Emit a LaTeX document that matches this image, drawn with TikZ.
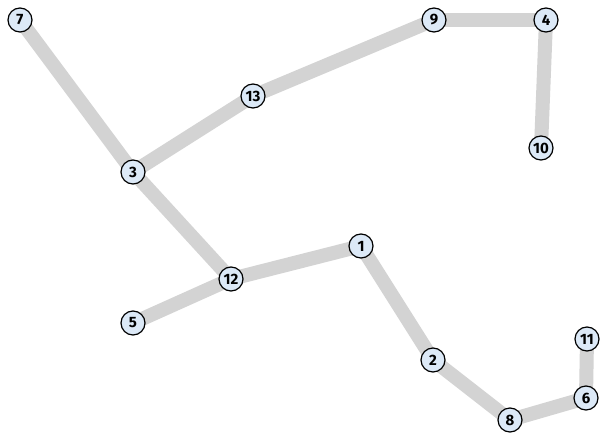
\documentclass[tikz,border=0pt]{standalone}
\usepackage{fontspec}
\setsansfont{Fira Sans}
\begin{document}
\begin{tikzpicture}[x=1pt,y=-1pt,
  vtx/.style={circle,draw=black,line width=1.2pt,fill={rgb,255:red,220;green,233;blue,247},minimum size=24pt,inner sep=0pt,font=\sffamily\bfseries\fontsize{15}{15}\selectfont},
  edge/.style={draw={rgb,255:red,211;green,211;blue,211},line width=14pt}]
\useasboundingbox (0,0) rectangle (600,436);
\coordinate (p7) at (20,20);
\coordinate (p9) at (434,20);
\coordinate (p4) at (546,20);
\coordinate (p13) at (253,96);
\coordinate (p10) at (541,148);
\coordinate (p3) at (133,172);
\coordinate (p1) at (361,246);
\coordinate (p12) at (231,279);
\coordinate (p5) at (133,323);
\coordinate (p11) at (587,339);
\coordinate (p2) at (433,360);
\coordinate (p6) at (586,398);
\coordinate (p8) at (510,420);
\foreach \a/\b in {7/3,3/13,13/9,9/4,4/10,3/12,12/1,12/5,1/2,2/8,8/6,6/11}
  \draw[edge] (p\a) -- (p\b);
\foreach \n in {7,9,4,13,10,3,1,12,5,11,2,6,8}
  \node[vtx] (n\n) at (p\n) {\n};
\end{tikzpicture}
\end{document}
